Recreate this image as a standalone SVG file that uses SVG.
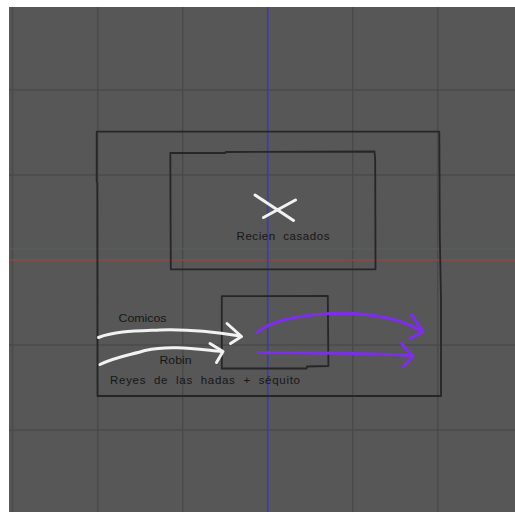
<svg xmlns="http://www.w3.org/2000/svg" width="515" height="512" viewBox="0 0 515 512">
<defs>
<style>
.grid{stroke:#4a4a4a;stroke-width:1.5;fill:none}
.box{stroke:#262626;stroke-width:1.8;fill:none;stroke-linejoin:round}
.lbl{font-family:"Liberation Sans",Arial,sans-serif;font-size:11.5px;fill:#161616;white-space:pre}
.w{stroke:#f2f2f2;stroke-width:3;fill:none;stroke-linecap:round;stroke-linejoin:round}
.p{stroke:#7b2fe6;stroke-width:3.2;fill:none;stroke-linecap:round;stroke-linejoin:round}
</style>
</defs>
<rect x="0" y="0" width="515" height="512" fill="#ffffff"/>
<rect x="9" y="7" width="506" height="505" fill="#575757"/>
<g id="grid">
<line class="grid" x1="12.5" y1="7" x2="12.5" y2="512"/>
<line class="grid" x1="97.7" y1="7" x2="97.7" y2="512"/>
<line class="grid" x1="182.7" y1="7" x2="182.7" y2="512"/>
<line class="grid" x1="352.7" y1="7" x2="352.7" y2="512"/>
<line class="grid" x1="437.7" y1="7" x2="437.7" y2="512"/>
<line class="grid" x1="9" y1="90" x2="515" y2="90"/>
<line class="grid" x1="9" y1="175" x2="515" y2="175"/>
<line class="grid" x1="9" y1="345" x2="515" y2="345"/>
<line class="grid" x1="9" y1="430" x2="515" y2="430"/>
<line x1="9" y1="249" x2="515" y2="249" stroke="#566262" stroke-width="2" opacity="0.5"/>
<line x1="9" y1="259.8" x2="515" y2="259.8" stroke="#a3403e" stroke-width="1.3"/>
<line x1="267.7" y1="7" x2="267.7" y2="512" stroke="#3a36c8" stroke-width="1.5"/>
</g>
<g id="escenario">
<path class="box" d="M96.7,131.7 L439.3,131.7 L439.8,235 L441,300 L441,396 L97.5,396 L97.3,183 L96.7,182 Z"/>
</g>
<g id="recien-casados">
<path class="box" d="M170.3,153 L225,153 L226,152 L374.5,151.5 L375.2,160 L375.5,269.3 L170.8,269.3 Z"/>
<path class="w" d="M255,195 L293.5,220.5 M263.5,217.5 L295.5,200"/>
<text class="lbl" xml:space="preserve" x="236.5" y="239.5" textLength="93" lengthAdjust="spacing">Recien  casados</text>
</g>
<g id="centro">
<path class="box" d="M221.8,296.2 L327.8,295.8 L328.4,366 L307,366.5 L306.5,368.5 L221.8,368.5 Z"/>
</g>
<g id="etiquetas">
<text class="lbl" x="118.5" y="322" textLength="48" lengthAdjust="spacingAndGlyphs">Comicos</text>
<text class="lbl" x="159.5" y="364.3" textLength="32" lengthAdjust="spacingAndGlyphs">Robin</text>
<text class="lbl" xml:space="preserve" x="110" y="383.5" textLength="190" lengthAdjust="spacing">Reyes  de  las  hadas  +  séquito</text>
</g>
<g id="connectors">
<path class="w" d="M98.5,337.5 C115,331 135,331 160,330 C190,329 215,332 240,336"/>
<path class="w" d="M227,323.5 L241.5,336.5 L230.5,343.5"/>
<path class="w" d="M100,364.5 C115,357 130,355 145,350.5 C170,345 195,349 222,351.5"/>
<path class="w" d="M210,343.5 L223,351.5 L216.5,362.5"/>
<path class="p" d="M257,332.5 C270,322 290,316 330,313.5 C370,312 400,318 421.5,331"/>
<path class="p" d="M411.5,314.5 L423,331.5 L410,338.5"/>
<path class="p" d="M258.5,352.5 C300,353 360,352.5 412.5,355.5"/>
<path class="p" d="M401.5,343.5 L413,356 L403.5,366.5"/>
</g>
</svg>
